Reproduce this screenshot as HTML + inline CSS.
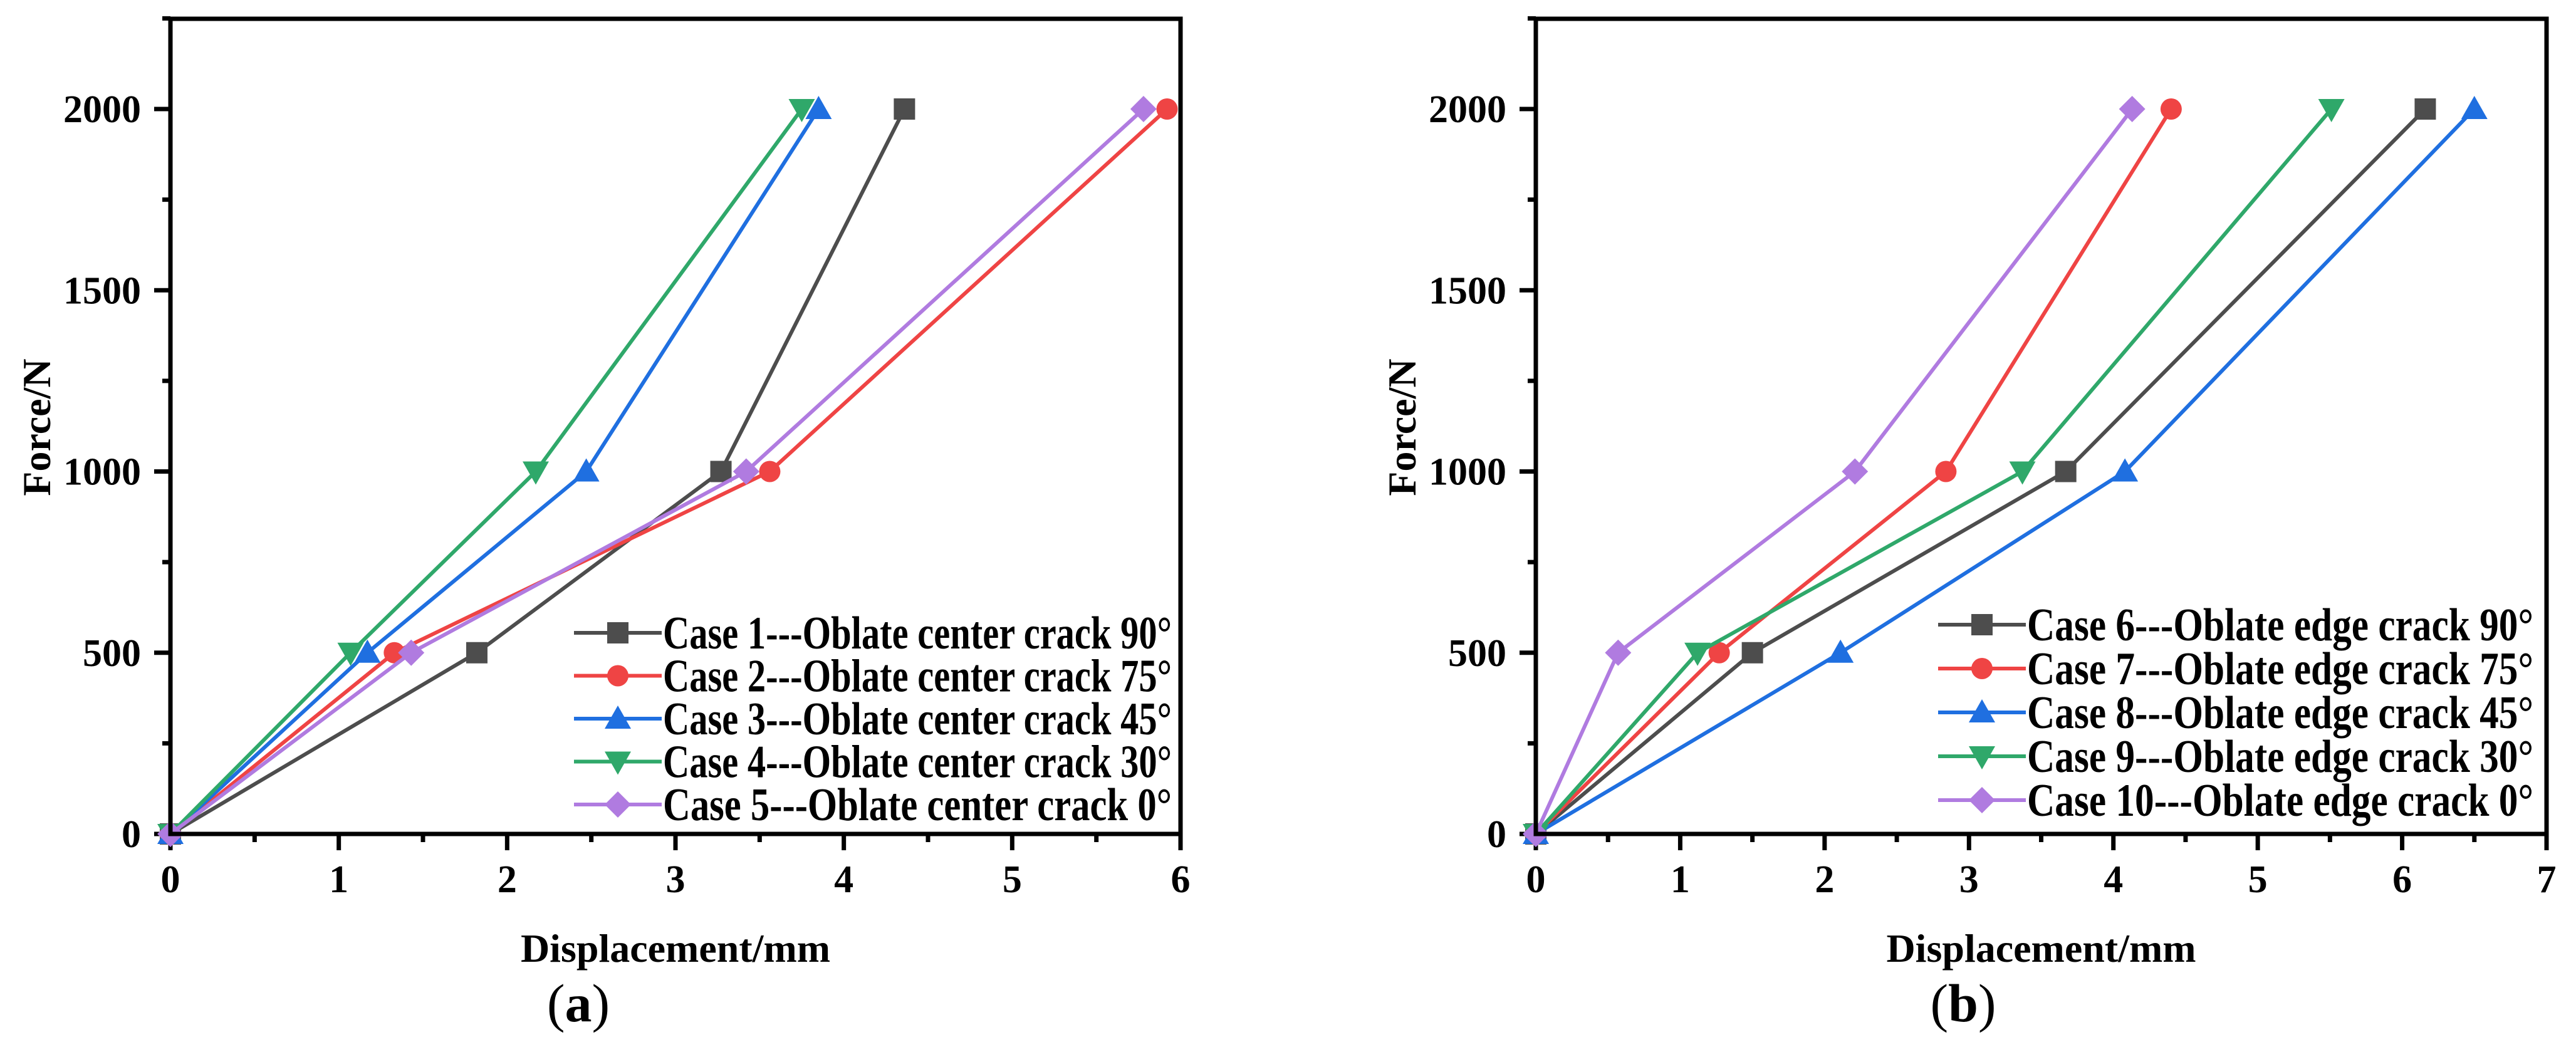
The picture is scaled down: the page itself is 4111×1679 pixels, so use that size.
<!DOCTYPE html>
<html><head><meta charset="utf-8"><style>
html,body{margin:0;padding:0;background:#fff;}
svg{display:block;font-family:"Liberation Serif","Times New Roman",serif;}
</style></head>
<body>
<svg id="chart" width="4111" height="1679" viewBox="0 0 4111 1679" xmlns="http://www.w3.org/2000/svg">
<rect width="4111" height="1679" fill="#fff"/>
</svg>
<script>
// ---- data ----
const forceLevels = [0, 500, 1000, 2000];
const yTicks = [0, 500, 1000, 1500, 2000];
const xTicksA = [0, 1, 2, 3, 4, 5, 6];
const xTicksB = [0, 1, 2, 3, 4, 5, 6, 7];
const namesA = ["Case 1---Oblate center crack 90°","Case 2---Oblate center crack 75°","Case 3---Oblate center crack 45°","Case 4---Oblate center crack 30°","Case 5---Oblate center crack 0°"];
const namesB = ["Case 6---Oblate edge crack 90°","Case 7---Oblate edge crack 75°","Case 8---Oblate edge crack 45°","Case 9---Oblate edge crack 30°","Case 10---Oblate edge crack 0°"];
const case1 = [0, 1.82, 3.27, 4.36];
const case2 = [0, 1.33, 3.56, 5.92];
const case3 = [0, 1.17, 2.47, 3.85];
const case4 = [0, 1.07, 2.17, 3.75];
const case5 = [0, 1.43, 3.42, 5.78];
const case6 = [0, 1.50, 3.67, 6.16];
const case7 = [0, 1.27, 2.84, 4.40];
const case8 = [0, 2.11, 4.08, 6.50];
const case9 = [0, 1.12, 3.37, 5.51];
const case10 = [0, 0.57, 2.21, 4.13];

const colors = ["#4d4d4d","#ef4444","#1f6fe0","#2fa86a","#b07be0"];
const shapes = ["square","circle","up","down","diamond"];
const NS = "http://www.w3.org/2000/svg";
const svg = document.getElementById("chart");
function el(tag, attrs, parent){ const e=document.createElementNS(NS,tag); for(const k in attrs) e.setAttribute(k,attrs[k]); (parent||svg).appendChild(e); return e; }

function marker(g, shape, cx, cy, color){
  let m;
  if(shape==="square") m=el("rect",{x:cx-17,y:cy-17,width:34,height:34,fill:color},g);
  else if(shape==="circle") m=el("circle",{cx:cx,cy:cy,r:17,fill:color},g);
  else if(shape==="up") m=el("polygon",{points:`${cx},${cy-21} ${cx+21},${cy+16} ${cx-21},${cy+16}`,fill:color},g);
  else if(shape==="down") m=el("polygon",{points:`${cx},${cy+21} ${cx+21},${cy-16} ${cx-21},${cy-16}`,fill:color},g);
  else m=el("polygon",{points:`${cx},${cy-21} ${cx+21},${cy} ${cx},${cy+21} ${cx-21},${cy}`,fill:color},g);
  
  
  return m;
}

function panel(o){
  const X0=o.x0, X1=o.x1, Y0=1331, Ytop=30;
  const xs=v=>X0+(X1-X0)*v/o.xmax;
  const ys=v=>Y0-(Y0-174)*v/2000;
  const g=el("g",{});
  
  
  for(let v=0; v<=o.xmax+1e-9; v+=0.5){
    const major=Math.abs(v-Math.round(v))<1e-9;
    const t=el("line",{x1:xs(v),x2:xs(v),y1:Y0,y2:Y0+(major?26:13),stroke:"#000","stroke-width":7},g);
     
  }
  for(let v=0; v<=2250; v+=250){
    const major=v%500===0;
    const t=el("line",{x1:X0,x2:X0-(major?26:13),y1:ys(v),y2:ys(v),stroke:"#000","stroke-width":7},g);
     
  }
  o.xticks.forEach(v=>{
    const t=el("text",{x:xs(v),y:1424,"text-anchor":"middle","font-size":62,"font-weight":"bold"},g);
    t.textContent=v;
     
  });
  yTicks.forEach(v=>{
    const t=el("text",{x:X0-47,y:ys(v)+21,"text-anchor":"end","font-size":62,"font-weight":"bold"},g);
    t.textContent=v;
     
  });
  o.series.forEach((s,i)=>{
    const sg=el("g",{},g);
    
    
    const pts=s.map((d,j)=>xs(d)+","+ys(forceLevels[j])).join(" ");
    el("polyline",{points:pts,fill:"none",stroke:colors[i],"stroke-width":6,"stroke-linejoin":"round"},sg);
    s.forEach((d,j)=>marker(sg,shapes[i],xs(d),ys(forceLevels[j]),colors[i]));
  });
  const f=el("rect",{x:X0,y:Ytop,width:X1-X0,height:Y0-Ytop,fill:"none",stroke:"#000","stroke-width":7},g);
   
  const lg=el("g",{},g);
  
  
  o.names.forEach((n,i)=>{
    const y=o.legY+i*o.legStep;
    const e=el("g",{},lg);
    
    
    el("line",{x1:o.legX,x2:o.legX+140,y1:y,y2:y,stroke:colors[i],"stroke-width":6},e);
    marker(e,shapes[i],o.legX+70,y,colors[i]);
    const t=el("text",{x:o.legX+142,y:y+25,"font-size":74,"font-weight":"bold",textLength:o.legW,lengthAdjust:"spacingAndGlyphs"},e);
    t.textContent=n;
  });
  const xt=el("text",{x:(X0+X1)/2,y:1535,"text-anchor":"middle","font-size":64,"font-weight":"bold"},g);
  xt.textContent="Displacement/mm";
   
  const yt=el("text",{x:0,y:0,"text-anchor":"middle","font-size":64,"font-weight":"bold",transform:`translate(${X0-192},682) rotate(-90)`},g);
  yt.textContent="Force/N";
   
  const lab=el("text",{x:o.labX,y:1630,"text-anchor":"middle","font-size":86},g);
  lab.innerHTML='(<tspan font-weight="bold">'+o.lab+'</tspan>)';
   
}

panel({name:"panel-a",x0:272,x1:1884,xmax:6,xticks:xTicksA,series:[case1,case2,case3,case4,case5],names:namesA,first:1,
  legX:916,legY:1010,legStep:68.5,legW:812,labX:923,lab:"a"});
panel({name:"panel-b",x0:2451,x1:4064,xmax:7,xticks:xTicksB,series:[case6,case7,case8,case9,case10],names:namesB,first:6,
  legX:3093,legY:997,legStep:70,legW:808,labX:3133,lab:"b"});
</script>
</body></html>
